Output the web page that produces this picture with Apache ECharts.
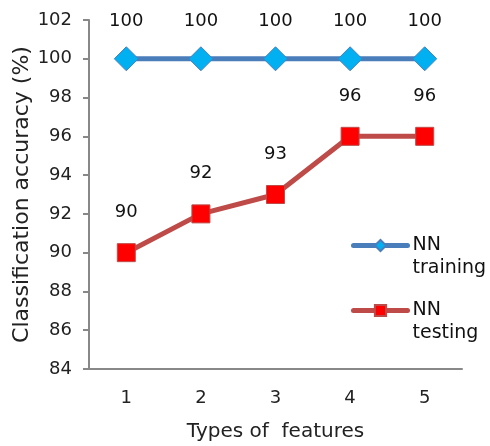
<!DOCTYPE html>
<html>
<head>
<meta charset="utf-8">
<script src="https://cdn.jsdelivr.net/npm/echarts@6/dist/echarts.min.js"></script>
<style>
  html, body { margin: 0; padding: 0; background: #fff; }
  #chart { width: 490px; height: 446px; }
</style>
</head>
<body>
<div id="chart"></div>
<script>
// Feature-type categories and accuracy values (%)
const featureTypes = ['1', '2', '3', '4', '5'];
const nnTraining = [100, 100, 100, 100, 100];
const nnTesting = [90, 92, 93, 96, 96];
const yTicks = { min: 84, max: 102, interval: 2 };

const FONT = 'DejaVu Sans';
const chart = echarts.init(document.getElementById('chart'));

// Two-line legend entries; a blank leading line keeps the first word
// level with the legend line icon.
const legendBase = {
  orient: 'vertical',
  left: 351,
  padding: 0,
  itemWidth: 54,
  itemHeight: 14,
  itemGap: 0,
  lineStyle: { width: 5, cap: 'round' },
  textStyle: {
    fontFamily: FONT,
    fontSize: 19,
    color: '#111',
    lineHeight: 23
  }
};

chart.setOption({
  animation: false,
  textStyle: { fontFamily: FONT },
  grid: { left: 89, right: 28, top: 20, bottom: 77, outerBoundsMode: 'none' },
  legend: [
    Object.assign({}, legendBase, {
      top: 211,
      data: ['NN training'],
      formatter: () => ' \nNN\ntraining'
    }),
    Object.assign({}, legendBase, {
      top: 276,
      data: ['NN testing'],
      formatter: () => ' \nNN\ntesting'
    })
  ],
  xAxis: {
    type: 'category',
    data: featureTypes,
    boundaryGap: true,
    name: 'Types of  features',
    nameLocation: 'middle',
    nameGap: 53,
    nameMoveOverlap: false,
    nameTextStyle: { fontFamily: FONT, fontSize: 20, color: '#222' },
    axisLine: { lineStyle: { color: '#888', width: 2 } },
    axisTick: { show: false },
    axisLabel: { fontFamily: FONT, fontSize: 18, color: '#222', margin: 20 }
  },
  yAxis: {
    type: 'value',
    min: yTicks.min,
    max: yTicks.max,
    interval: yTicks.interval,
    name: 'Classification accuracy (%)',
    nameLocation: 'middle',
    nameGap: 56,
    nameMoveOverlap: false,
    nameTextStyle: { fontFamily: FONT, fontSize: 22, color: '#222' },
    axisLine: { show: true, lineStyle: { color: '#888', width: 2 } },
    axisTick: { show: true, length: 6, lineStyle: { color: '#888', width: 2 } },
    axisLabel: { fontFamily: FONT, fontSize: 18, color: '#222', margin: 17 },
    splitLine: { show: false }
  },
  series: [
    {
      name: 'NN training',
      type: 'line',
      data: nnTraining,
      symbol: 'diamond',
      symbolSize: [24, 24],
      lineStyle: { color: '#4a7ebb', width: 5 },
      itemStyle: { color: '#00b0f0', borderColor: '#4a7ebb', borderWidth: 1 },
      label: {
        show: true,
        position: 'top',
        distance: 16,
        fontFamily: FONT,
        fontSize: 18,
        color: '#111'
      }
    },
    {
      name: 'NN testing',
      type: 'line',
      data: nnTesting,
      symbol: 'rect',
      symbolSize: 18,
      lineStyle: { color: '#be4b48', width: 5 },
      itemStyle: { color: '#ff0000', borderColor: '#be4b48', borderWidth: 1 },
      label: {
        show: true,
        position: 'top',
        distance: 22,
        fontFamily: FONT,
        fontSize: 18,
        color: '#111'
      }
    }
  ]
});
</script>
</body>
</html>
